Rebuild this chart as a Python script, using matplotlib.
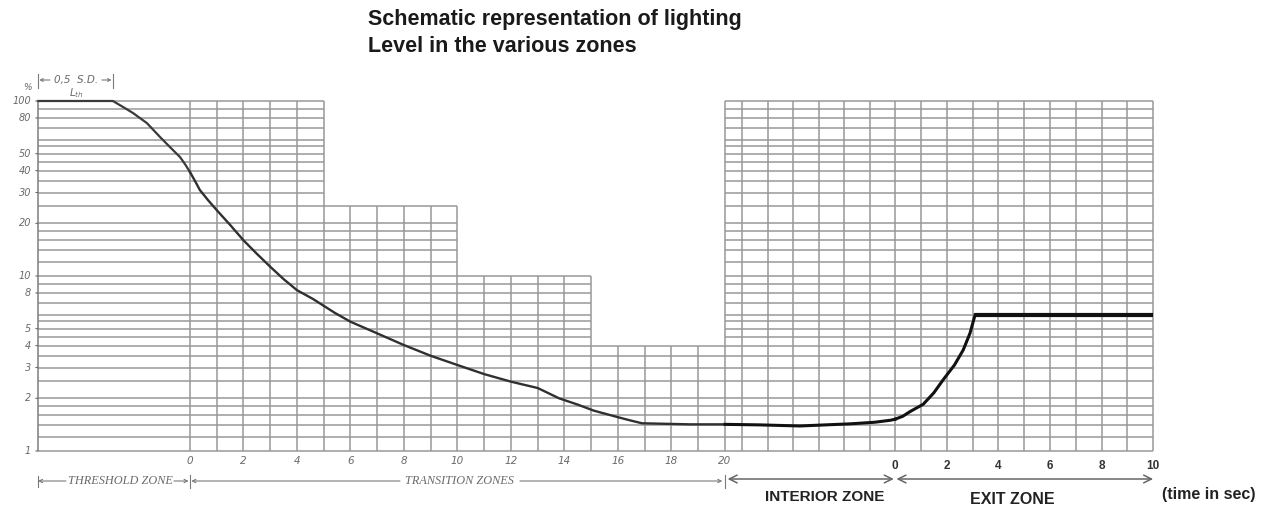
import matplotlib.pyplot as plt
import matplotlib.transforms as mtransforms

W, H = 1261, 508

# zone geometry (seconds, transition time axis)
THR_LEN = 5.68          # threshold zone drawn width
INT_LEN = 6.36          # interior zone drawn width
EXIT_SCALE = 0.9645     # exit zone seconds are drawn slightly narrower
EXIT_START = 20 + INT_LEN

# luminance curve, % of L_th, read per zone
thr_t = [-5.68, -2.88, -2.5, -2.13, -1.61, -1.12, -0.75, -0.37, -0.19, 0.0]
thr_level = [100, 100, 92.4, 85.4, 74.8, 62.3, 54.6, 47.8, 43.7, 39.3]

trans_t = [0.0, 0.19, 0.37, 0.67, 1.0, 1.5, 2.0, 2.5, 3.0, 3.5, 4.0, 4.6,
           5.42, 6.0, 7.0, 8.0, 9.0, 10.0, 11.0, 12.0, 13.0, 13.8, 14.5,
           15.1, 16.0, 16.5, 16.9, 18.7, 20.0]
trans_level = [39.3, 34.9, 31, 27.2, 23.8, 19.6, 16, 13.4, 11.3, 9.6, 8.3,
               7.39, 6.15, 5.48, 4.7, 4.03, 3.5, 3.1, 2.75, 2.49, 2.29, 2.0,
               1.84, 1.7, 1.56, 1.49, 1.44, 1.42, 1.42]

int_t = [0.0, 1.3, 2.8, 4.7, 5.6, 6.2, 6.36]
int_level = [1.42, 1.41, 1.39, 1.43, 1.46, 1.50, 1.52]

exit_t = [0.0, 0.3, 0.58, 1.09, 1.5, 1.86, 2.3, 2.64, 2.9, 3.1, 10.0]
exit_level = [1.52, 1.58, 1.68, 1.85, 2.15, 2.55, 3.1, 3.78, 4.7, 6.0, 6.0]

# labels
y_ticks = [100, 80, 50, 40, 30, 20, 10, 8, 5, 4, 3, 2, 1]
trans_ticks = [0, 2, 4, 6, 8, 10, 12, 14, 16, 18, 20]
exit_ticks = [0, 2, 4, 6, 8, 10]

# ruling of the log paper inside one decade
decade = [1, 1.2, 1.4, 1.6, 1.8, 2, 2.5, 3, 3.5, 4, 4.5, 5, 5.5, 6, 7, 8, 9]
rules = [d for d in decade] + [d * 10 for d in decade] + [100]


def ex(t):
    return EXIT_START + t * EXIT_SCALE


def px(t):
    # pixel column of a transition-time coordinate
    return 190 + t * 26.75


def tx(p):
    return (p - 190) / 26.75


x_left, x_right = -THR_LEN, ex(10)

fig = plt.figure(figsize=(W / 100, H / 100), dpi=100)
ax = fig.add_axes([38 / W, (H - 451) / H, (px(x_right) - 38) / W, 350 / H])
ax.set_xlim(x_left, x_right)
ax.set_yscale('log')
ax.set_ylim(1, 100)
ax.axis('off')

grid_c = '#989898'
glw = 1.1

# zones: (x0, x1, top level)
zones = [(x_left, 0, 100), (0, 5, 100), (5, 10, 25), (10, 15, 10),
         (15, 20, 4), (20, EXIT_START, 100), (EXIT_START, x_right, 100)]
for x0, x1, top in zones:
    for v in rules:
        if v <= top + 1e-9:
            ax.hlines(v, x0, x1, color=grid_c, lw=glw, clip_on=False)

# vertical rules
for t in range(0, 21):
    top = 100 if t <= 5 else 25 if t <= 10 else 10 if t <= 15 else 4
    if t == 20:
        top = 100
    ax.vlines(t, 1, top, color=grid_c, lw=glw, clip_on=False)
for k in range(1, 7):
    ax.vlines(EXIT_START - k * 0.953, 1, 100, color=grid_c, lw=glw)
for t in range(0, 11):
    ax.vlines(ex(t), 1, 100, color=grid_c, lw=glw, clip_on=False)
ax.vlines(x_left, 1, 100, color='#888888', lw=1.2, clip_on=False)

# curve
ax.plot(thr_t, thr_level, color='#3a3a3a', lw=1.6, clip_on=False)
ax.plot(trans_t, trans_level, color='#303030', lw=1.7, clip_on=False)
ax.plot([20 + t for t in int_t], int_level, color='#111111', lw=2.2, clip_on=False)
ax.plot([ex(t) for t in exit_t[:-1]], exit_level[:-1], color='#111111', lw=2.2,
        clip_on=False)
ax.plot([ex(t) for t in exit_t[-2:]], exit_level[-2:], color='#111111', lw=3.0,
        clip_on=False, solid_capstyle='butt')

# y axis labels
lab_c = '#6a6a6a'
for v in y_ticks:
    ax.annotate(str(v), (x_left, v), xytext=(-7, 0), textcoords='offset pixels',
                ha='right', va='center', fontsize=7, style='italic', color=lab_c)
    ax.annotate('', (x_left, v), xytext=(-5, 0), textcoords='offset pixels',
                arrowprops=dict(arrowstyle='-', color=lab_c, lw=0.8))
fig.text(27 / W, 1 - 88 / H, '%', fontsize=6.5, style='italic', color=lab_c,
         ha='center', va='center')

bt = mtransforms.blended_transform_factory(ax.transData, fig.transFigure)


def fy(p):
    return 1 - p / H


# x tick labels
for t in trans_ticks:
    ax.text(t, fy(461), str(t), transform=bt, ha='center', va='center',
            fontsize=7.5, style='italic', color=lab_c)
for t in exit_ticks:
    ax.text(ex(t), fy(466), str(t), transform=bt, ha='center', va='center',
            fontsize=8.5, fontweight='bold', color='#333333',
            family='Liberation Sans')

# zone dimension lines
arr_c = '#7a7a7a'
zy = fy(481)


def arrow(x0, x1, style='->', c=arr_c, lw=0.8, y=zy, ms=6):
    ax.annotate('', xy=(x1, y), xytext=(x0, y), xycoords=bt, textcoords=bt,
                arrowprops=dict(arrowstyle=style, color=c, lw=lw,
                                shrinkA=0, shrinkB=0, mutation_scale=ms))


def bar(x, y0, y1, c=arr_c):
    ax.plot([x, x], [fy(y0), fy(y1)], transform=bt, color=c, lw=0.8,
            clip_on=False)


bar(x_left, 476, 487)
bar(0, 475, 488)
bar(20, 475, 488)
arrow(tx(66), x_left)
arrow(tx(174), -0.05)
arrow(tx(400), 0.05)
arrow(tx(520), 19.9)
ax.text(tx(120), zy, 'THRESHOLD ZONE', transform=bt, ha='center', va='center',
        fontsize=8.8, style='italic', color=lab_c, family='Liberation Serif')
ax.text(tx(459), zy, 'TRANSITION ZONES', transform=bt, ha='center', va='center',
        fontsize=8.8, style='italic', color=lab_c, family='Liberation Serif')

arrow(20.1, EXIT_START - 0.05, style='<->', c='#666666', lw=1.1, y=fy(479), ms=14)
arrow(EXIT_START + 0.05, x_right, style='<->', c='#666666', lw=1.1, y=fy(479),
      ms=14)

ax.text(tx(825), fy(497), 'INTERIOR ZONE', transform=bt, ha='center',
        va='center', fontsize=11, fontweight='bold', color='#222222',
        family='Liberation Sans')
ax.text(tx(1012), fy(499), 'EXIT ZONE', transform=bt, ha='center', va='center',
        fontsize=11.5, fontweight='bold', color='#222222', family='Liberation Sans')
fig.text(1209 / W, fy(495), '(time in sec)', ha='center', va='center',
         fontsize=11.5, fontweight='bold', color='#222222', family='Liberation Sans')

# 0,5 S.D. dimension above the threshold plateau
sy = fy(80)
bar(x_left, 74, 88)
bar(-2.88, 74, 88)
arrow(tx(50), x_left + 0.05, y=sy, ms=5)
arrow(tx(102), -2.93, y=sy, ms=5)
ax.text(tx(76), sy, '0,5  S.D.', transform=bt, ha='center', va='center',
        fontsize=7.5, style='italic', color=lab_c)
ax.text(tx(76), fy(93), r'$L_{th}$', transform=bt, ha='center', va='center',
        fontsize=7.5, color=lab_c)

fig.text(368 / W, fy(20), 'Schematic representation of lighting',
         fontsize=15.5, fontweight='bold', family='Liberation Sans',
         ha='left', va='center', color='#1a1a1a')
fig.text(368 / W, fy(46), 'Level in the various zones',
         fontsize=15.5, fontweight='bold', family='Liberation Sans',
         ha='left', va='center', color='#1a1a1a')

fig.savefig('out.png', dpi=100)
